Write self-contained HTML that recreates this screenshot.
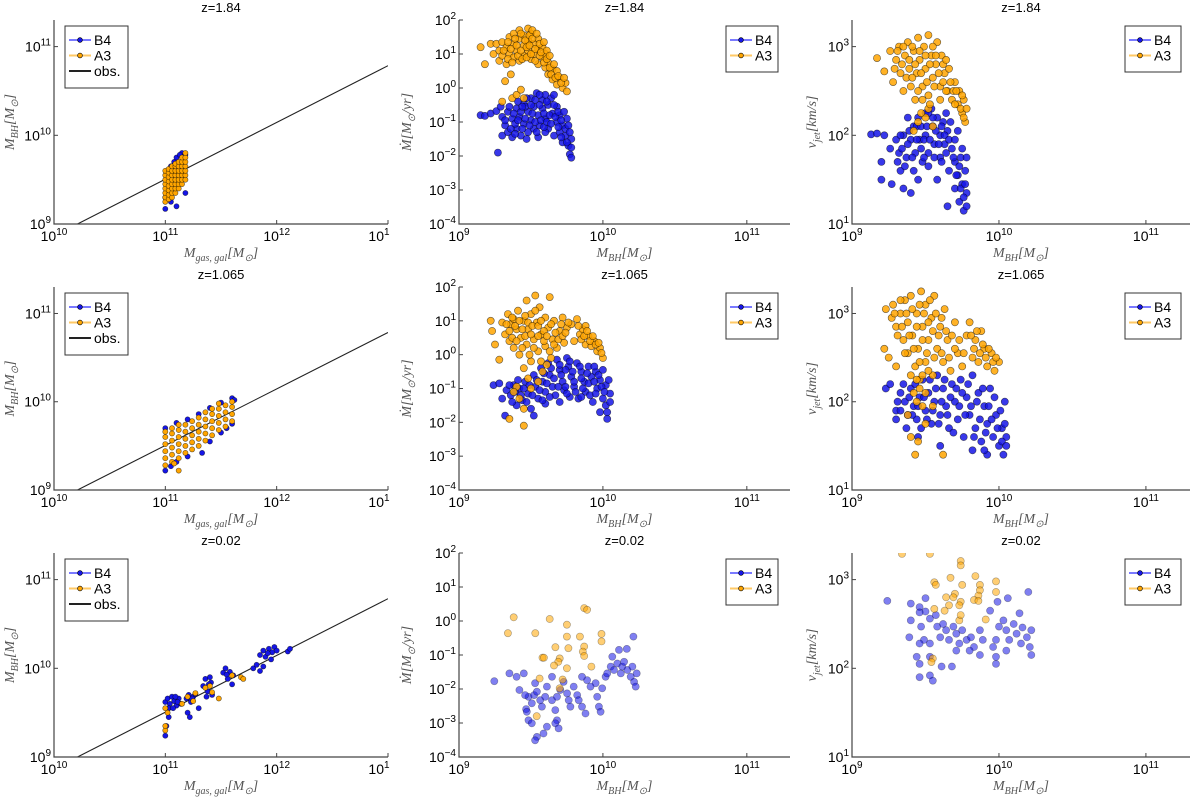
<!DOCTYPE html>
<html><head><meta charset="utf-8">
<style>
html,body{margin:0;padding:0;background:#fff;}
svg{display:block;font-family:"Liberation Sans",sans-serif;}
.tl{font-size:14px;fill:#000;}
.tt{font-size:13px;fill:#000;}
.ax{font-family:"Liberation Serif",serif;font-style:italic;font-size:14px;fill:#555;}
.lg{font-size:14px;fill:#000;}
</style></head>
<body>
<svg id="fig" width="1200" height="797" viewBox="0 0 1200 797"></svg>
<script>
// ---- data (log10 values) ----
const titles = ["z=1.84","z=1.065","z=0.02"];
const obsSlope = 0.64;
const obsAt13 = 10.785;

const p11_B4 = [[11.0,9.17],[11.0,9.3],[11.02,9.55],[11.05,9.65],[11.08,9.7],[11.1,9.75],[11.15,9.8],[11.18,9.78],[11.1,9.2],[11.18,9.35],[11.05,9.25],[11.13,9.78]];
const p11_A3 = [[11.0,9.25],[11.0,9.3],[11.0,9.35],[11.0,9.4],[11.0,9.45],[11.0,9.5],[11.0,9.55],[11.0,9.6],
[11.03,9.28],[11.03,9.33],[11.03,9.38],[11.03,9.43],[11.03,9.48],[11.03,9.53],[11.03,9.58],[11.03,9.62],
[11.06,9.3],[11.06,9.35],[11.06,9.4],[11.06,9.45],[11.06,9.5],[11.06,9.55],[11.06,9.6],[11.06,9.65],
[11.09,9.35],[11.09,9.4],[11.09,9.45],[11.09,9.5],[11.09,9.55],[11.09,9.6],[11.09,9.65],[11.09,9.68],
[11.12,9.4],[11.12,9.45],[11.12,9.5],[11.12,9.55],[11.12,9.6],[11.12,9.65],[11.12,9.7],
[11.15,9.45],[11.15,9.5],[11.15,9.55],[11.15,9.6],[11.15,9.65],[11.15,9.7],[11.15,9.75],
[11.18,9.5],[11.18,9.55],[11.18,9.6],[11.18,9.65],[11.18,9.7],[11.18,9.75],[11.18,9.8]];

const p21_B4 = [[11.0,9.7],[11.1,9.76],[11.2,9.8],[11.3,9.86],[11.4,9.93],[11.5,9.99],[11.6,10.04],[11.62,10.02],[11.1,9.32],[11.2,9.38],[11.33,9.42],[11.4,9.55],[11.5,9.65],[11.6,9.75],[11.55,9.7],[11.05,9.27],[11.0,9.22]];
const p21_A3 = [[11.0,9.28],[11.0,9.36],[11.0,9.44],[11.0,9.52],[11.0,9.6],[11.0,9.66],
[11.06,9.32],[11.06,9.4],[11.06,9.48],[11.06,9.56],[11.06,9.64],[11.06,9.7],
[11.12,9.36],[11.12,9.44],[11.12,9.52],[11.12,9.6],[11.12,9.68],[11.12,9.74],
[11.18,9.42],[11.18,9.5],[11.18,9.58],[11.18,9.66],[11.18,9.74],
[11.24,9.46],[11.24,9.54],[11.24,9.62],[11.24,9.7],[11.24,9.78],
[11.3,9.5],[11.3,9.58],[11.3,9.66],[11.3,9.74],[11.3,9.82],
[11.36,9.56],[11.36,9.64],[11.36,9.72],[11.36,9.8],[11.36,9.88],
[11.42,9.62],[11.42,9.7],[11.42,9.78],[11.42,9.86],[11.42,9.92],
[11.48,9.68],[11.48,9.76],[11.48,9.84],[11.48,9.92],[11.48,9.98],
[11.54,9.72],[11.54,9.8],[11.54,9.88],[11.54,9.96],
[11.6,9.78],[11.6,9.86],[11.6,9.94],[11.6,10.0],[11.12,9.22],[11.08,9.3]];

const p31_B4 = [[11.0,9.62],[11.02,9.66],[11.04,9.6],[11.06,9.68],[11.08,9.63],[11.1,9.58],[11.12,9.66],[11.14,9.6],[11.03,9.55],[11.07,9.55],[11.0,9.24],[11.01,9.35],[11.03,9.45],
[11.19,9.66],[11.21,9.7],[11.23,9.62],[11.25,9.68],[11.27,9.71],[11.2,9.5],[11.3,9.55],[11.22,9.45],
[11.34,9.8],[11.36,9.88],[11.38,9.74],[11.4,9.9],[11.41,9.84],[11.42,9.7],[11.37,9.68],
[11.52,9.95],[11.54,10.0],[11.56,9.88],[11.58,9.96],[11.6,9.82],[11.61,9.92],
[11.79,10.0],[11.82,10.04],[11.85,9.97],[11.88,10.02],
[11.85,10.15],[11.88,10.2],[11.9,10.13],[11.93,10.22],[11.96,10.18],[11.98,10.24],[12.0,10.2],[11.95,10.1],
[12.1,10.19],[12.12,10.22],[11.09,9.68],[11.11,9.62],[11.24,9.66],[11.39,9.82],[11.55,9.93],[11.92,10.17]];
const p31_A3 = [[11.0,9.55],[11.02,9.5],[11.0,9.3],[11.0,9.35],[11.15,9.6],[11.2,9.68],[11.25,9.63],[11.27,9.72],[11.36,9.78],[11.4,9.8],[11.42,9.73],[11.48,9.66],[11.6,9.92],[11.68,9.9],[11.7,9.88]];

const p12_B4 = [[9.15,-0.8],[9.18,-0.82],[9.22,-0.75],[9.26,-0.68],[9.29,-0.55],[9.27,-1.9],[9.3,-0.85],[9.3,-1.4],[9.32,-1.1],[9.34,-0.7],[9.34,-1.3],[9.37,-0.9],[9.37,-1.45],[9.4,-0.6],[9.4,-1.2],[9.42,-0.85],[9.43,-1.4],[9.45,-0.45],[9.45,-1.05],[9.48,-0.7],[9.48,-1.3],[9.5,-0.3],[9.5,-0.95],[9.52,-0.55],[9.52,-1.2],[9.54,-0.15],[9.55,-0.8],[9.56,-1.1],[9.58,-0.35],[9.58,-0.6],[9.6,-0.2],[9.6,-0.9],[9.62,-0.5],[9.62,-1.2],[9.64,-0.3],[9.65,-0.75],[9.66,-1.4],[9.68,-0.55],[9.68,-1.0],[9.7,-0.8],[9.7,-1.3],[9.72,-1.1],[9.72,-1.6],[9.74,-1.4],[9.75,-0.9],[9.76,-1.7],[9.77,-1.95],[9.78,-2.05],[9.78,-1.5],[9.47,-1.5],[9.55,-1.45],[9.6,-1.3]];
const p12_B4_dense = [[9.32,-0.95],[9.35,-0.55],[9.36,-1.2],[9.38,-0.75],[9.39,-1.05],[9.41,-0.4],[9.41,-0.95],[9.43,-0.7],[9.44,-1.2],[9.46,-0.55],[9.46,-0.9],[9.47,-0.3],[9.49,-1.1],[9.5,-0.5],[9.51,-0.75],[9.53,-0.35],[9.53,-1.0],[9.54,-1.3],[9.56,-0.5],[9.57,-0.95],[9.59,-0.75],[9.59,-1.15],[9.61,-0.4],[9.61,-1.0],[9.63,-0.8],[9.64,-1.05],[9.66,-0.5],[9.67,-0.85],[9.69,-0.7],[9.69,-1.15],[9.71,-0.95],[9.71,-1.45],[9.73,-0.7],[9.74,-1.2],[9.75,-1.6],[9.76,-1.1],[9.77,-1.3],[9.78,-1.75],[9.66,-0.2],[9.56,-0.2],[9.44,-0.55],[9.39,-1.35]];
const p12_A3 = [[9.15,1.2],[9.18,0.7],[9.22,1.3],[9.24,1.0],[9.26,1.3],[9.28,1.1],[9.28,0.8],[9.3,1.35],[9.3,0.95],[9.33,1.2],[9.33,0.7],[9.35,1.5],[9.35,1.0],[9.38,1.6],[9.38,1.3],[9.38,0.9],[9.4,1.1],[9.42,1.7],[9.42,1.45],[9.42,0.8],[9.45,1.55],[9.45,1.25],[9.45,0.95],[9.48,1.75],[9.48,1.4],[9.48,1.1],[9.5,1.6],[9.5,0.85],[9.52,1.3],[9.52,1.0],[9.55,1.45],[9.55,1.15],[9.55,0.7],[9.58,1.2],[9.58,0.9],[9.6,1.0],[9.6,0.6],[9.62,0.75],[9.62,0.4],[9.65,0.55],[9.65,0.25],[9.68,0.5],[9.68,0.1],[9.7,0.3],[9.72,0.0],[9.74,0.15],[9.75,-0.1],[9.36,0.4],[9.37,-0.3],[9.4,-0.2],[9.43,-0.05],[9.45,-0.3],[9.32,0.2],[9.3,-0.4]];
const p12_A3_dense = [[9.31,1.1],[9.34,1.35],[9.34,0.85],[9.36,1.15],[9.37,0.75],[9.39,1.45],[9.4,1.25],[9.41,0.95],[9.43,1.6],[9.43,1.1],[9.44,0.85],[9.46,1.4],[9.47,1.2],[9.47,0.9],[9.49,1.55],[9.49,1.25],[9.5,1.0],[9.51,1.7],[9.51,1.45],[9.53,1.15],[9.53,0.8],[9.54,1.6],[9.56,1.3],[9.56,0.95],[9.57,1.05],[9.59,1.35],[9.59,0.75],[9.61,1.1],[9.61,0.85],[9.63,0.95],[9.63,0.6],[9.64,0.4],[9.66,0.7],[9.67,0.3],[9.69,0.35],[9.71,0.15],[9.73,0.3]];

const p13_B4 = [[9.13,2.01],[9.17,2.02],[9.22,2.0],[9.26,1.85],[9.2,1.5],[9.2,1.7],[9.27,1.45],[9.33,1.6],[9.35,1.4],[9.4,1.35],[9.45,1.5],[9.3,1.95],[9.32,1.8],[9.35,2.0],[9.37,1.75],[9.4,1.95],[9.42,2.1],[9.43,1.8],[9.45,2.2],[9.46,1.95],[9.48,1.7],[9.5,2.25],[9.5,2.0],[9.52,1.8],[9.54,2.3],[9.55,2.1],[9.56,1.9],[9.58,2.2],[9.6,2.0],[9.6,1.75],[9.62,2.15],[9.63,1.9],[9.65,2.05],[9.66,1.6],[9.68,1.85],[9.7,1.7],[9.7,1.4],[9.72,1.55],[9.73,1.25],[9.74,1.75],[9.75,1.45],[9.76,1.15],[9.77,1.6],[9.78,1.35],[9.65,1.2],[9.58,1.5],[9.38,2.2]];
const p13_B4_dense = [[9.31,1.7],[9.33,2.0],[9.34,1.85],[9.36,1.65],[9.38,1.9],[9.39,2.05],[9.41,1.75],[9.42,1.6],[9.44,1.95],[9.44,2.1],[9.47,1.85],[9.47,2.1],[9.49,1.95],[9.49,1.75],[9.51,2.1],[9.52,1.65],[9.53,1.95],[9.55,2.2],[9.56,1.75],[9.57,2.05],[9.59,1.9],[9.61,2.1],[9.61,1.7],[9.63,2.0],[9.64,1.8],[9.66,1.95],[9.67,2.15],[9.69,1.75],[9.7,1.95],[9.71,1.55],[9.72,2.05],[9.73,1.65],[9.74,1.4],[9.75,1.85],[9.76,1.3],[9.77,1.45],[9.78,1.75],[9.78,1.2],[9.52,2.25],[9.64,2.25]];
const p13_A3 = [[9.17,2.87],[9.22,2.72],[9.26,2.95],[9.28,2.6],[9.3,2.85],[9.32,3.0],[9.33,2.7],[9.35,2.5],[9.36,2.9],[9.38,3.05],[9.39,2.75],[9.4,2.55],[9.42,2.95],[9.43,2.4],[9.44,2.7],[9.45,3.1],[9.46,2.85],[9.48,2.55],[9.49,3.0],[9.5,2.75],[9.52,3.13],[9.52,2.45],[9.54,2.9],[9.55,2.65],[9.57,2.8],[9.58,3.05],[9.6,2.55],[9.61,2.9],[9.63,2.7],[9.65,2.5],[9.66,2.75],[9.68,2.4],[9.7,2.6],[9.72,2.35],[9.73,2.5],[9.75,2.25],[9.76,2.4],[9.77,2.15],[9.5,2.2],[9.55,2.1],[9.47,2.25],[9.42,2.05],[9.45,2.15],[9.52,2.3]];
const p13_A3_dense = [[9.29,2.75],[9.31,2.95],[9.34,2.8],[9.35,3.0],[9.37,2.65],[9.39,2.85],[9.41,2.65],[9.41,3.0],[9.43,2.8],[9.45,2.5],[9.46,2.95],[9.47,2.7],[9.48,2.4],[9.5,2.9],[9.51,2.6],[9.53,2.8],[9.53,2.35],[9.55,3.0],[9.56,2.55],[9.57,2.9],[9.59,2.7],[9.6,2.4],[9.62,2.8],[9.62,2.6],[9.64,2.5],[9.64,2.85],[9.67,2.6],[9.69,2.5],[9.7,2.35],[9.71,2.5],[9.74,2.3],[9.75,2.45],[9.76,2.2],[9.78,2.3]];

const p22_B4 = [[9.24,-0.9],[9.28,-0.85],[9.3,-1.3],[9.32,-1.8],[9.33,-1.05],[9.36,-1.2],[9.38,-0.9],[9.4,-1.5],[9.42,-1.0],[9.44,-1.35],[9.46,-0.8],[9.48,-1.15],[9.5,-1.6],[9.52,-0.6],[9.53,-0.95],[9.55,-1.3],[9.57,-0.4],[9.58,-0.8],[9.6,-1.1],[9.62,-0.25],[9.63,-0.6],[9.65,-0.95],[9.67,-1.2],[9.68,-0.15],[9.7,-0.45],[9.72,-0.8],[9.73,-1.05],[9.75,-0.1],[9.76,-0.35],[9.78,-0.65],[9.8,-0.95],[9.82,-0.25],[9.83,-1.3],[9.85,-0.5],[9.87,-0.8],[9.88,-1.1],[9.9,-0.35],[9.92,-0.65],[9.93,-1.4],[9.95,-0.5],[9.96,-1.0],[9.98,-0.75],[9.98,-1.7],[10.0,-1.3],[10.02,-0.9],[10.03,-1.9],[10.05,-1.15],[9.52,-1.8],[9.6,-1.45],[9.7,-1.4],[9.77,-1.25]];
const p22_B4_dense = [[9.35,-0.9],[9.37,-1.4],[9.39,-1.1],[9.41,-0.75],[9.43,-1.2],[9.45,-1.0],[9.47,-1.4],[9.49,-0.9],[9.51,-1.2],[9.54,-0.75],[9.56,-1.05],[9.58,-1.35],[9.59,-0.55],[9.61,-0.85],[9.63,-1.25],[9.64,-0.4],[9.66,-0.7],[9.69,-0.95],[9.7,-0.3],[9.71,-0.6],[9.74,-0.45],[9.74,-0.95],[9.77,-0.2],[9.79,-0.5],[9.8,-0.8],[9.81,-1.1],[9.84,-0.35],[9.85,-0.7],[9.86,-1.0],[9.89,-0.55],[9.9,-0.85],[9.91,-1.2],[9.94,-0.35],[9.94,-0.8],[9.95,-1.15],[9.97,-0.6],[9.99,-0.95],[10.0,-0.45],[10.01,-1.1],[10.02,-1.5],[10.04,-0.75],[10.05,-1.4],[10.03,-1.7],[9.85,-1.25],[9.75,-1.15]];
const p22_A3 = [[9.22,1.0],[9.23,0.7],[9.25,0.3],[9.28,-0.15],[9.3,0.95],[9.32,0.6],[9.34,1.2],[9.35,0.4],[9.36,0.9],[9.38,1.05],[9.38,0.2],[9.4,0.75],[9.41,1.3],[9.42,0.0],[9.43,0.5],[9.45,1.0],[9.45,-0.4],[9.47,1.6],[9.47,0.3],[9.48,0.75],[9.5,1.2],[9.5,-0.2],[9.52,0.45],[9.53,1.75],[9.54,0.95],[9.55,0.1],[9.56,1.4],[9.57,0.6],[9.58,-0.5],[9.6,1.1],[9.6,0.25],[9.62,0.8],[9.63,1.7],[9.64,-0.1],[9.65,0.45],[9.66,1.0],[9.68,0.2],[9.7,0.7],[9.72,1.1],[9.73,0.35],[9.75,0.8],[9.78,0.9],[9.8,0.4],[9.82,1.05],[9.84,0.6],[9.86,0.75],[9.88,0.3],[9.9,0.55],[9.92,0.25],[9.94,0.4],[9.96,0.1],[9.98,0.2],[10.0,-0.1],[9.88,0.85],[9.4,-0.95],[9.42,-1.3],[9.45,-1.6],[9.38,-1.1],[9.45,-2.1],[9.35,-1.9],[9.5,-1.0],[9.55,-0.8],[9.48,-0.7]];
const p22_A3_dense = [[9.33,0.9],[9.35,0.7],[9.37,1.1],[9.37,0.5],[9.39,0.85],[9.4,0.4],[9.42,1.0],[9.44,0.75],[9.44,0.2],[9.46,1.15],[9.46,0.55],[9.48,0.95],[9.49,0.0],[9.5,0.6],[9.51,0.85],[9.52,0.2],[9.53,1.3],[9.55,0.55],[9.55,0.85],[9.57,-0.2],[9.57,1.0],[9.59,0.4],[9.59,0.7],[9.61,-0.3],[9.61,0.55],[9.63,0.1],[9.64,0.9],[9.66,0.3],[9.67,0.65],[9.69,0.45],[9.71,0.9],[9.72,0.55],[9.74,0.65],[9.76,0.95],[9.83,0.85],[9.85,0.45],[9.87,0.55],[9.89,0.7],[9.91,0.4],[9.93,0.55],[9.95,0.3],[9.97,0.35],[9.99,0.05]];

const p23_B4 = [[9.23,2.15],[9.26,2.2],[9.3,1.9],[9.3,1.8],[9.31,2.0],[9.33,2.1],[9.36,2.0],[9.38,1.85],[9.4,2.15],[9.42,1.95],[9.44,1.8],[9.46,2.05],[9.48,2.25],[9.5,1.9],[9.52,2.1],[9.54,1.75],[9.56,2.0],[9.58,2.3],[9.6,1.85],[9.62,2.15],[9.64,1.95],[9.66,1.7],[9.68,2.2],[9.7,2.0],[9.72,1.8],[9.74,2.25],[9.76,1.6],[9.78,2.05],[9.8,1.85],[9.82,2.3],[9.84,1.7],[9.86,2.1],[9.88,1.55],[9.9,1.95],[9.92,1.75],[9.94,2.15],[9.96,1.6],[9.98,1.85],[10.0,1.5],[10.02,1.7],[10.03,1.4],[10.05,1.6],[10.04,2.0],[9.6,1.5],[9.45,1.6],[9.92,1.4]];
const p23_B4_dense = [[9.33,1.9],[9.35,2.2],[9.37,1.7],[9.39,2.05],[9.41,1.85],[9.43,2.2],[9.45,1.95],[9.47,1.7],[9.49,2.05],[9.51,1.8],[9.53,2.25],[9.55,1.9],[9.57,2.15],[9.59,1.75],[9.61,2.0],[9.63,2.25],[9.65,1.85],[9.67,2.05],[9.69,1.65],[9.71,2.15],[9.73,1.95],[9.75,2.1],[9.77,1.85],[9.79,2.2],[9.81,1.95],[9.83,1.6],[9.85,2.0],[9.87,1.8],[9.89,2.15],[9.91,1.65],[9.93,1.95],[9.95,1.8],[9.97,2.05],[9.99,1.7],[10.01,1.9],[10.02,1.55],[10.04,1.75],[10.05,1.5],[9.82,1.45],[9.9,1.45]];
const p23_A3 = [[9.22,2.6],[9.23,3.05],[9.25,2.5],[9.27,2.95],[9.28,3.1],[9.3,2.4],[9.3,2.85],[9.33,3.0],[9.35,2.7],[9.36,3.15],[9.38,2.55],[9.38,2.9],[9.4,3.2],[9.41,2.75],[9.43,2.4],[9.44,3.0],[9.45,2.6],[9.47,3.25],[9.48,2.85],[9.5,2.45],[9.5,3.1],[9.52,2.7],[9.54,2.95],[9.55,2.3],[9.56,3.2],[9.58,2.6],[9.6,2.85],[9.62,2.45],[9.63,3.05],[9.65,2.7],[9.67,2.35],[9.7,2.9],[9.72,2.55],[9.75,2.4],[9.78,2.75],[9.8,2.9],[9.82,2.5],[9.84,2.7],[9.86,2.45],[9.88,2.8],[9.9,2.6],[9.92,2.4],[9.95,2.55],[9.97,2.35],[10.0,2.45],[9.4,2.3],[9.42,2.1],[9.44,2.0],[9.46,2.25],[9.48,1.95],[9.5,2.1],[9.52,2.35],[9.38,1.85],[9.4,1.6],[9.45,1.55],[9.5,1.75],[9.43,1.4],[9.62,1.4],[9.55,1.95]];
const p23_A3_dense = [[9.29,3.0],[9.31,2.75],[9.33,3.15],[9.34,2.85],[9.36,2.55],[9.37,3.0],[9.39,2.75],[9.41,3.05],[9.42,2.6],[9.44,2.85],[9.46,3.1],[9.46,2.45],[9.48,2.7],[9.49,3.0],[9.51,2.55],[9.52,2.9],[9.53,3.15],[9.55,2.8],[9.56,2.5],[9.57,3.0],[9.59,2.75],[9.61,2.55],[9.61,2.95],[9.64,2.8],[9.66,2.5],[9.68,2.75],[9.7,2.6],[9.73,2.7],[9.76,2.55],[9.81,2.75],[9.83,2.6],[9.85,2.8],[9.87,2.55],[9.89,2.65],[9.91,2.5],[9.93,2.6],[9.96,2.45],[9.98,2.5],[9.46,2.15],[9.48,2.3],[9.44,2.25]];

const p32_B4 = [[9.245,-1.77],[9.466,-2.59],[9.483,-2.23],[9.506,-2.42],[9.522,-2.18],[9.529,-1.83],[9.541,-2.08],[9.564,-2.33],[9.576,-2.52],[9.599,-2.23],[9.611,-1.93],[9.646,-1.64],[9.646,-2.33],[9.669,-2.62],[9.681,-2.92],[9.704,-2.03],[9.727,-1.79],[9.751,-2.13],[9.762,-2.33],[9.774,-2.52],[9.797,-1.93],[9.821,-2.18],[9.832,-2.33],[9.855,-2.52],[9.879,-2.72],[9.681,-2.23],[9.669,-3.01],[9.692,-3.16],[9.611,-3.11],[9.587,-3.31],[9.541,-3.41],[9.529,-3.51],[9.483,-2.92],[9.471,-2.67],[9.459,-2.18],[9.506,-3.01],[9.40,-1.64],[9.42,-2.03],[9.35,-1.54],[9.45,-1.54],
[9.949,-1.83],[9.96,-2.23],[9.972,-2.52],[9.984,-2.67],[9.995,-1.98],[10.019,-1.64],[10.03,-1.54],[10.054,-1.34],[10.065,-1.05],[10.077,-1.44],[10.1,-1.25],[10.112,-0.85],[10.124,-1.54],[10.135,-1.34],[10.147,-1.2],[10.166,-0.82],[10.17,-1.44],[10.193,-1.64],[10.205,-1.34],[10.212,-0.46],[10.217,-1.79],[10.228,-1.93],[10.235,-1.54],[9.89,-1.74],[9.914,-1.93],[9.855,-1.64]];
const p32_A3 = [[9.34,-0.36],[9.38,0.11],[9.53,-0.36],[9.63,0.06],[9.75,-0.11],[9.87,0.38],[9.89,0.33],[9.99,-0.38],[9.99,-0.6],[9.75,-0.46],[9.84,-0.46],[9.67,-0.77],[9.76,-0.8],[9.87,-0.75],[9.86,-0.9],[9.87,-1.03],[9.58,-1.08],[9.59,-1.08],[9.70,-1.1],[9.69,-1.2],[9.66,-1.31],[9.75,-1.39],[9.92,-1.34],[9.56,-1.69],[9.72,-1.72],[9.7,-1.98],[9.54,-2.8]];

const p33_B4 = [[9.24,2.76],[9.4,2.73],[9.46,2.69],[9.5,2.79],[9.5,2.64],[9.47,2.47],[9.49,2.32],[9.53,2.56],[9.57,2.6],[9.58,2.47],[9.6,2.35],[9.62,2.5],[9.64,2.43],[9.66,2.32],[9.69,2.47],[9.71,2.39],[9.73,2.28],[9.75,2.43],[9.78,2.32],[9.81,2.35],[9.83,2.24],[9.87,2.43],[9.87,2.15],[9.89,2.32],[9.94,2.65],[9.96,2.24],[9.98,2.13],[9.98,2.05],[9.99,2.75],[10.03,2.54],[10.05,2.43],[10.06,2.79],[10.07,2.32],[10.1,2.5],[10.12,2.39],[10.14,2.62],[10.15,2.28],[10.16,2.46],[10.19,2.35],[10.2,2.86],[10.21,2.24],[10.22,2.43],[10.22,2.15],[9.44,2.13],[9.46,2.05],[9.53,2.13],[9.61,2.02],[9.68,2.02],[9.53,1.92],[9.55,1.86],[9.46,1.9],[9.53,2.28],[9.46,2.28],[9.39,2.35],[9.4,2.54],[9.46,2.63],[10.05,2.2],[9.98,2.32],[9.8,2.2],[9.71,2.2],[10.0,2.47]];
const p33_A3 = [[9.34,3.29],[9.53,3.29],[9.74,3.21],[9.74,3.16],[9.56,2.97],[9.57,2.94],[9.67,3.02],[9.75,2.94],[9.84,3.04],[9.98,2.98],[9.98,2.86],[9.87,2.94],[9.87,2.88],[9.86,2.82],[9.7,2.84],[9.69,2.8],[9.64,2.8],[9.66,2.71],[9.63,2.65],[9.74,2.75],[9.73,2.71],[9.83,2.77],[9.86,2.76],[9.56,2.67],[9.73,2.54],[9.74,2.6],[9.55,2.11],[9.54,2.07],[9.91,2.55]];

// ---- layout ----
const NS = "http://www.w3.org/2000/svg";
const svg = document.getElementById('fig');
function el(tag, attrs, parent){const e=document.createElementNS(NS,tag);for(const k in attrs)e.setAttribute(k,attrs[k]);(parent||svg).appendChild(e);return e;}

const rowTop=[20,287,553], rowBot=[224,490,757];
const cols=[
 {x0:54,x1:388,xmin:10,xmax:13,ymin:9,ymax:11.3,xt:[10,11,12,13],xtl:["10","11","12","1"],yt:[9,10,11],ytl:["9","10","11"],r:2.6,legend:[65,128],obs:true,
  xlab:'M<tspan font-size="10" dy="4">gas, gal</tspan><tspan dy="-4">[M</tspan><tspan font-size="10" dy="4">⊙</tspan><tspan dy="-4">]</tspan>',
  ylab:'M<tspan font-size="10" dy="4">BH</tspan><tspan dy="-4">[M</tspan><tspan font-size="10" dy="4">⊙</tspan><tspan dy="-4">]</tspan>',ylx:14},
 {x0:459,x1:790,xmin:9,xmax:11.3,ymin:-4,ymax:2,xt:[9,10,11],xtl:["9","10","11"],yt:[-4,-3,-2,-1,0,1,2],ytl:["−4","−3","−2","−1","0","1","2"],r:3.6,legend:[726,778],obs:false,
  xlab:'M<tspan font-size="10" dy="4">BH</tspan><tspan dy="-4">[M</tspan><tspan font-size="10" dy="4">⊙</tspan><tspan dy="-4">]</tspan>',
  ylab:'Ṁ[M<tspan font-size="10" dy="4">⊙</tspan><tspan dy="-4">/yr]</tspan>',ylx:411},
 {x0:852,x1:1190,xmin:9,xmax:11.3,ymin:1,ymax:3.3,xt:[9,10,11],xtl:["9","10","11"],yt:[1,2,3],ytl:["1","2","3"],r:3.6,legend:[1125,1181],obs:false,
  xlab:'M<tspan font-size="10" dy="4">BH</tspan><tspan dy="-4">[M</tspan><tspan font-size="10" dy="4">⊙</tspan><tspan dy="-4">]</tspan>',
  ylab:'v<tspan font-size="10" dy="4">jet</tspan><tspan dy="-4">[km/s]</tspan>',ylx:816}
];
const data=[
 [p11_B4,p11_A3,p12_B4.concat(p12_B4_dense),p12_A3.concat(p12_A3_dense),p13_B4.concat(p13_B4_dense),p13_A3.concat(p13_A3_dense)],
 [p21_B4,p21_A3,p22_B4.concat(p22_B4_dense),p22_A3.concat(p22_A3_dense),p23_B4.concat(p23_B4_dense),p23_A3.concat(p23_A3_dense)],
 [p31_B4,p31_A3,p32_B4,p32_A3,p33_B4,p33_A3]];
const BLUE="#1515e6", ORANGE="#ffa500";

for(let r=0;r<3;r++){
 for(let c=0;c<3;c++){
  const C=cols[c], top=rowTop[r], bot=rowBot[r];
  const g=el('g',{});
  
  
  const X=v=>C.x0+(v-C.xmin)/(C.xmax-C.xmin)*(C.x1-C.x0);
  const Y=v=>bot-(v-C.ymin)/(C.ymax-C.ymin)*(bot-top);
  const clip='clip'+r+c;
  const cp=el('clipPath',{id:clip},g); el('rect',{x:C.x0,y:top,width:C.x1-C.x0,height:bot-top},cp);
  const t=el('text',{x:(C.x0+C.x1)/2,y:top-8,'text-anchor':'middle',class:'tt'},g); t.textContent=titles[r];
   
  if(C.obs){
   const xs=(C.ymin-(obsAt13-obsSlope*13))/obsSlope;
   const ln=el('line',{x1:X(xs),y1:Y(C.ymin),x2:X(13),y2:Y(obsAt13),stroke:'#222','stroke-width':1.1,'clip-path':'url(#'+clip+')'},g);
    
  }
  const faded = (r===2 && c>0);
  const sets=[[data[r][c*2],BLUE,'b4'],[data[r][c*2+1],ORANGE,'a3']];
  for(const [pts,col,nm] of sets){
   const sg=el('g',{'clip-path':'url(#'+clip+')'},g);
    
   for(const p of pts){
    const ci=el('circle',{cx:X(p[0]).toFixed(1),cy:Y(p[1]).toFixed(1),r:C.r,fill:col,'fill-opacity':faded?0.55:(c===0?1:0.85),stroke:'#000','stroke-opacity':faded?0.35:0.6,'stroke-width':0.6},sg);
     
   }
  }
  const ax=el('path',{d:`M${C.x0},${top} V${bot} H${C.x1}`,fill:'none',stroke:'#444','stroke-width':1.2},g);
   
  C.xt.forEach((v,i)=>{
   el('line',{x1:X(v),y1:bot,x2:X(v),y2:bot-4,stroke:'#444','stroke-width':1},g);
   const tx=el('text',{x:X(v)-(i===C.xt.length-1&&C.obs?9:0),y:bot+17,'text-anchor':'middle',class:'tl'},g);
   tx.innerHTML='10<tspan font-size="10" dy="-6">'+C.xtl[i]+'</tspan>';
    
  });
  C.yt.forEach((v,i)=>{
   el('line',{x1:C.x0,y1:Y(v),x2:C.x0+4,y2:Y(v),stroke:'#444','stroke-width':1},g);
   const ty=el('text',{x:C.x0-3,y:Y(v)+5,'text-anchor':'end',class:'tl'},g);
   ty.innerHTML='10<tspan font-size="10" dy="-6">'+C.ytl[i]+'</tspan>';
    
  });
  const xl=el('text',{x:(C.x0+C.x1)/2,y:bot+33,'text-anchor':'middle',class:'ax'},g); xl.innerHTML=C.xlab;
   
  const cy=(top+bot)/2;
  const yl=el('text',{x:C.ylx,y:cy,'text-anchor':'middle',class:'ax',transform:`rotate(-90 ${C.ylx} ${cy})`},g); yl.innerHTML=C.ylab;
   
  const lx0=C.legend[0], lx1=C.legend[1], ly=top+6, lh=C.obs?62:46;
  const lg=el('g',{},g);
   
  el('rect',{x:lx0,y:ly,width:lx1-lx0,height:lh,fill:'#fff',stroke:'#333','stroke-width':1},lg);
  const ents=[['B4','#7a7aff',BLUE],['A3','#ffc966',ORANGE]];
  if(C.obs) ents.push(['obs.','#222',null]);
  ents.forEach((e,i)=>{
   const yy=ly+14+i*15.5;
   const le=el('g',{},lg);
    
   el('line',{x1:lx0+4,y1:yy,x2:lx0+26,y2:yy,stroke:e[1],'stroke-width':2},le);
   if(e[2]) el('circle',{cx:lx0+15,cy:yy,r:2.4,fill:e[2],stroke:'#000','stroke-width':0.6},le);
   const lt=el('text',{x:lx0+29,y:yy+5,class:'lg'},le); lt.textContent=e[0];
  });
 }
}
</script>
</body></html>
